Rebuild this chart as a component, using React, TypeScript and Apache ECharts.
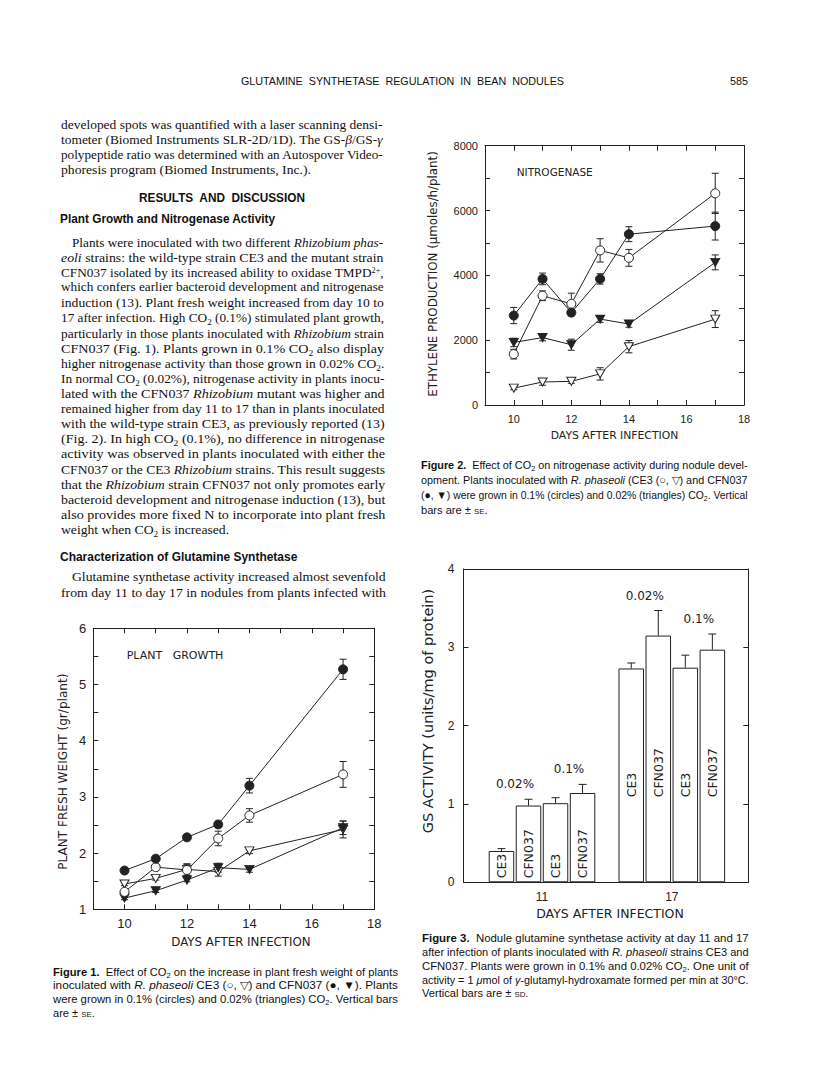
import React, { useEffect, useLayoutEffect, useRef } from "react";
import * as echarts from "echarts";

// ---------------- data ----------------
const days = [10, 11, 12, 13, 14, 17];

// Figure 1 – plant fresh weight (g/plant)
const weightCE3High = [1.31, 1.75, 1.7, 2.26, 2.67, 3.4];
const weightCE3HighSE = [0.05, 0.05, 0.1, 0.13, 0.12, 0.23];
const weightCFNHigh = [1.69, 1.9, 2.28, 2.51, 3.2, 5.27];
const weightCFNHighSE = [0.03, 0.03, 0.03, 0.03, 0.13, 0.18];
const weightCE3Low = [1.45, 1.55, 1.71, 1.67, 2.04, 2.42];
const weightCE3LowSE = [0.03, 0.03, 0.1, 0.08, 0.05, 0.15];
const weightCFNLow = [1.2, 1.33, 1.52, 1.74, 1.71, 2.45];
const weightCFNLowSE = [0.03, 0.03, 0.03, 0.08, 0.05, 0.12];

// Figure 2 – ethylene production (µmoles/h/plant)
const ethyleneCE3High = [1570, 3370, 3120, 4770, 4540, 6530];
const ethyleneCE3HighSE = [150, 150, 330, 360, 260, 620];
const ethyleneCFNHigh = [2760, 3890, 2850, 3890, 5270, 5520];
const ethyleneCFNHighSE = [250, 180, 100, 160, 230, 430];
const ethyleneCE3Low = [520, 710, 730, 960, 1800, 2650];
const ethyleneCE3LowSE = [50, 100, 60, 190, 190, 260];
const ethyleneCFNLow = [1930, 2080, 1860, 2650, 2500, 4400];
const ethyleneCFNLowSE = [130, 100, 170, 100, 100, 230];

// Figure 3 – GS activity (units/mg protein)
const gsDays = [11, 17];
const strains = ["CE3", "CFN037"];
const co2Levels = ["0.02%", "0.1%"];
const gsCE3Low = [0.4, 2.73];
const gsCE3LowSD = [0.03, 0.07];
const gsCFNLow = [0.98, 3.15];
const gsCFNLowSD = [0.08, 0.32];
const gsCE3High = [1.01, 2.74];
const gsCE3HighSD = [0.07, 0.16];
const gsCFNHigh = [1.14, 2.97];
const gsCFNHighSD = [0.11, 0.2];

// ---------------- styling ----------------
const INK = "#222";
const TFONT = '"DejaVu Sans", sans-serif';
const NFONT = '"Liberation Sans", Arial, sans-serif';
const BAR_W = 25.5;
const BAR_GAP = 0.06;
const BAR_PITCH = BAR_W * (1 + BAR_GAP);
const LABEL_DIST = [4, 85];

type Kind = "fc" | "oc" | "ft" | "ot";

function valueAxis(extra: any) {
  return {
    type: "value",
    splitLine: { show: false },
    axisLine: { show: true, onZero: false, lineStyle: { color: INK, width: 1 } },
    axisTick: { show: true, inside: true, length: 5, lineStyle: { color: INK, width: 1 } },
    ...extra,
  };
}

const lbl = (fs: number, margin: number, extra: any = {}) => ({
  fontSize: fs,
  fontFamily: NFONT,
  color: INK,
  margin,
  ...extra,
});

const evenOnly = (v: number) => (v % 2 === 0 ? String(v) : "");

const errRender = (cap: number) => (_p: any, api: any) => {
  const x = api.value(0);
  const y = api.value(1);
  const e = api.value(2);
  const top = api.coord([x, y + e]);
  const bot = api.coord([x, y - e]);
  const st = { stroke: INK, lineWidth: 1, fill: "none" };
  return {
    type: "group",
    children: [
      { type: "line", shape: { x1: top[0], y1: top[1], x2: bot[0], y2: bot[1] }, style: st },
      { type: "line", shape: { x1: top[0] - cap, y1: top[1], x2: top[0] + cap, y2: top[1] }, style: st },
      { type: "line", shape: { x1: bot[0] - cap, y1: bot[1], x2: bot[0] + cap, y2: bot[1] }, style: st },
    ],
  };
};

function curve(name: string, vals: number[], errs: number[], kind: Kind, ax: number, size: number) {
  const filled = kind === "fc" || kind === "ft";
  const tri = kind === "ft" || kind === "ot";
  return [
    {
      type: "custom",
      name: name + " SE",
      xAxisIndex: ax,
      yAxisIndex: ax,
      silent: true,
      z: 2,
      encode: { x: 0, y: 1 },
      data: days.map((d, i) => [d, vals[i], errs[i]]),
      renderItem: errRender(3.5),
    },
    {
      type: "line",
      name,
      xAxisIndex: ax,
      yAxisIndex: ax,
      silent: true,
      z: 3,
      data: days.map((d, i) => [d, vals[i]]),
      symbol: tri ? "triangle" : "circle",
      symbolRotate: tri ? 180 : 0,
      symbolSize: tri ? [size, size - 1] : size,
      showSymbol: true,
      lineStyle: { color: INK, width: 1 },
      itemStyle: { color: filled ? INK : "#fff", borderColor: INK, borderWidth: 1, opacity: 1 },
      emphasis: { disabled: true },
    },
  ];
}

const gsSets = [
  { vals: gsCE3Low, sd: gsCE3LowSD, strain: strains[0] },
  { vals: gsCFNLow, sd: gsCFNLowSD, strain: strains[1] },
  { vals: gsCE3High, sd: gsCE3HighSD, strain: strains[0] },
  { vals: gsCFNHigh, sd: gsCFNHighSD, strain: strains[1] },
];

const gsErrRender = (_p: any, api: any) => {
  const d = api.value(0);
  const v = api.value(1);
  const e = api.value(2);
  const slot = api.value(3);
  const dx = (slot - 1.5) * BAR_PITCH;
  const p0 = api.coord([d, v]);
  const p1 = api.coord([d, v + e]);
  const x = p0[0] + dx;
  const st = { stroke: INK, lineWidth: 1, fill: "none" };
  const children: any[] = [
    { type: "line", shape: { x1: x, y1: p0[1], x2: x, y2: p1[1] }, style: st },
    { type: "line", shape: { x1: x - 4, y1: p1[1], x2: x + 4, y2: p1[1] }, style: st },
  ];
  if (slot % 2 === 1) {
    children.push({
      type: "text",
      x: x - BAR_PITCH / 2,
      y: p1[1] - 15,
      style: {
        text: co2Levels[(slot - 1) / 2],
        fontSize: 12,
        fontFamily: TFONT,
        fill: INK,
        align: "center",
        verticalAlign: "middle",
      },
    });
  }
  return { type: "group", children };
};

function gtext(x: number, y: number, text: string, fs: number, rotate = false, align = "center") {
  return {
    type: "text",
    x,
    y,
    rotation: rotate ? Math.PI / 2 : 0,
    silent: true,
    style: {
      text,
      fontSize: fs,
      fontFamily: TFONT,
      fill: INK,
      align,
      verticalAlign: "middle",
      textAlign: align,
      textVerticalAlign: "middle",
    },
  };
}

const option: any = {
  animation: false,
  backgroundColor: "transparent",
  grid: [
    { left: 485, top: 145.7, width: 259, height: 259.3 },
    { left: 93.3, top: 628.3, width: 281, height: 281 },
    { left: 463.5, top: 569, width: 284.8, height: 313.3 },
  ],
  xAxis: [
    valueAxis({ gridIndex: 0, position: "bottom", min: 9, max: 18, interval: 1, axisLabel: lbl(11, 8, { formatter: evenOnly }) }),
    valueAxis({ gridIndex: 0, position: "top", min: 9, max: 18, interval: 1, axisLabel: { show: false } }),
    valueAxis({ gridIndex: 1, position: "bottom", min: 9, max: 18, interval: 1, axisLabel: lbl(13, 8, { formatter: evenOnly }) }),
    valueAxis({ gridIndex: 1, position: "top", min: 9, max: 18, interval: 1, axisLabel: { show: false } }),
    valueAxis({
      gridIndex: 2,
      position: "bottom",
      min: 7.371,
      max: 20.536,
      axisTick: { show: false },
      axisLabel: lbl(12, 9, { customValues: gsDays }),
    }),
    valueAxis({ gridIndex: 2, position: "top", min: 7.371, max: 20.536, axisTick: { show: false }, axisLabel: { show: false } }),
  ],
  yAxis: [
    valueAxis({
      gridIndex: 0,
      position: "left",
      min: 0,
      max: 8000,
      interval: 1000,
      axisLabel: lbl(11, 7, { formatter: (v: number) => (v % 2000 === 0 ? String(v) : "") }),
    }),
    valueAxis({ gridIndex: 0, position: "right", min: 0, max: 8000, interval: 1000, axisLabel: { show: false } }),
    valueAxis({
      gridIndex: 1,
      position: "left",
      min: 1,
      max: 6,
      interval: 0.5,
      axisLabel: lbl(13, 7, { formatter: (v: number) => (Number.isInteger(v) ? String(v) : "") }),
    }),
    valueAxis({ gridIndex: 1, position: "right", min: 1, max: 6, interval: 0.5, axisLabel: { show: false } }),
    valueAxis({ gridIndex: 2, position: "left", min: 0, max: 4, interval: 1, axisLabel: lbl(12, 9) }),
    valueAxis({ gridIndex: 2, position: "right", min: 0, max: 4, interval: 1, axisLabel: { show: false } }),
  ],
  series: [
    // Figure 2
    ...curve("CE3 0.02%", ethyleneCE3Low, ethyleneCE3LowSE, "ot", 0, 9),
    ...curve("CFN037 0.02%", ethyleneCFNLow, ethyleneCFNLowSE, "ft", 0, 9),
    ...curve("CE3 0.1%", ethyleneCE3High, ethyleneCE3HighSE, "oc", 0, 9),
    ...curve("CFN037 0.1%", ethyleneCFNHigh, ethyleneCFNHighSE, "fc", 0, 9),
    // Figure 1
    ...curve("CE3 0.02% (wt)", weightCE3Low, weightCE3LowSE, "ot", 2, 9),
    ...curve("CFN037 0.02% (wt)", weightCFNLow, weightCFNLowSE, "ft", 2, 9),
    ...curve("CE3 0.1% (wt)", weightCE3High, weightCE3HighSE, "oc", 2, 9),
    ...curve("CFN037 0.1% (wt)", weightCFNHigh, weightCFNHighSE, "fc", 2, 9),
    // Figure 3
    ...gsSets.map((s, k) => ({
      type: "bar",
      name: s.strain + " " + co2Levels[k >> 1],
      xAxisIndex: 4,
      yAxisIndex: 4,
      silent: true,
      z: 2,
      barWidth: BAR_W,
      barGap: BAR_GAP * 100 + "%",
      data: gsDays.map((d, i) => ({ value: [d, s.vals[i]], label: { distance: LABEL_DIST[i] } })),
      itemStyle: { color: "#fff", borderColor: INK, borderWidth: 1 },
      label: {
        show: true,
        position: "insideBottom",
        rotate: 90,
        align: "left",
        verticalAlign: "middle",
        formatter: s.strain,
        fontSize: 12.5,
        fontFamily: TFONT,
        color: INK,
      },
    })),
    {
      type: "custom",
      name: "GS SD",
      xAxisIndex: 4,
      yAxisIndex: 4,
      silent: true,
      z: 3,
      encode: { x: 0, y: 1 },
      data: gsSets.flatMap((s, k) => gsDays.map((d, i) => [d, s.vals[i], s.sd[i], k])),
      renderItem: gsErrRender,
    },
  ],
  graphic: [
    gtext(516.7, 171.7, "NITROGENASE", 10.5, false, "left"),
    gtext(126.7, 655.7, "PLANT   GROWTH", 11, false, "left"),
    gtext(614.5, 435, "DAYS AFTER INFECTION", 10.8),
    gtext(433, 274, "ETHYLENE PRODUCTION (μmoles/h/plant)", 11.8, true),
    gtext(241, 941.7, "DAYS AFTER INFECTION", 11.8),
    gtext(62.7, 771.7, "PLANT FRESH WEIGHT (gr/plant)", 12.1, true),
    gtext(610, 913, "DAYS AFTER INFECTION", 12.5),
    gtext(428.3, 711, "GS ACTIVITY (units/mg of protein)", 14.5, true),
  ],
};

// ---------------- page text ----------------
// left, centre y, right (0 = natural length, scaled like its block), html
type TLine = [number, number, number, string];
const R = (y: number) => 382 + (y - 125) * 0.0075;
const L0 = 60.5;
const LI = 71.7;

const runningHead: TLine[] = [
  [241, 81, 564, "GLUTAMINE&nbsp; SYNTHETASE&nbsp; REGULATION&nbsp; IN&nbsp; BEAN&nbsp; NODULES"],
  [730, 81, 748, "585"],
];

const headings: TLine[] = [
  [139, 198.3, 305, "RESULTS&nbsp; AND&nbsp; DISCUSSION"],
  [60, 219.3, 275, "Plant Growth and Nitrogenase Activity"],
  [60, 556.7, 297.3, "Characterization of Glutamine Synthetase"],
];

const CO2 = "CO<sub>2</sub>";
const bodyLines: TLine[] = [
  [L0, 125, R(125), "developed spots was quantified with a laser scanning densi-"],
  [L0, 140, R(140), "tometer (Biomed Instruments SLR-2D/1D). The GS-<i>β</i>/GS-<i>γ</i>"],
  [L0, 155.3, R(155), "polypeptide ratio was determined with an Autospover Video-"],
  [L0, 170, 0, "phoresis program (Biomed Instruments, Inc.)."],
  [LI, 242.7, R(243), "Plants were inoculated with two different <i>Rhizobium phas-</i>"],
  [L0, 257.7, R(258), "<i>eoli</i> strains: the wild-type strain CE3 and the mutant strain"],
  [L0, 272.7, R(273), "CFN037 isolated by its increased ability to oxidase TMPD<sup>2+</sup>,"],
  [L0, 287.3, R(287), "which confers earlier bacteroid development and nitrogenase"],
  [L0, 303.3, R(303), "induction (13). Plant fresh weight increased from day 10 to"],
  [L0, 318.3, R(318), `17 after infection. High ${CO2} (0.1%) stimulated plant growth,`],
  [L0, 333.7, R(334), "particularly in those plants inoculated with <i>Rhizobium</i> strain"],
  [L0, 348.7, R(349), `CFN037 (Fig. 1). Plants grown in 0.1% ${CO2} also display`],
  [L0, 364, R(364), `higher nitrogenase activity than those grown in 0.02% ${CO2}.`],
  [L0, 379, R(379), `In normal ${CO2} (0.02%), nitrogenase activity in plants inocu-`],
  [L0, 393.7, R(394), "lated with the CFN037 <i>Rhizobium</i> mutant was higher and"],
  [L0, 408.7, R(409), "remained higher from day 11 to 17 than in plants inoculated"],
  [L0, 423.7, R(424), "with the wild-type strain CE3, as previously reported (13)"],
  [L0, 439, R(439), `(Fig. 2). In high ${CO2} (0.1%), no difference in nitrogenase`],
  [L0, 454.3, R(454), "activity was observed in plants inoculated with either the"],
  [L0, 469.5, R(470), "CFN037 or the CE3 <i>Rhizobium</i> strains. This result suggests"],
  [L0, 484.5, R(485), "that the <i>Rhizobium</i> strain CFN037 not only promotes early"],
  [L0, 500, R(500), "bacteroid development and nitrogenase induction (13), but"],
  [L0, 514.5, R(515), "also provides more fixed N to incorporate into plant fresh"],
  [L0, 529.5, 0, `weight when ${CO2} is increased.`],
  [LI, 577, R(577), "Glutamine synthetase activity increased almost sevenfold"],
  [L0, 593, R(593), "from day 11 to day 17 in nodules from plants infected with"],
];

const captionLines: TLine[] = [
  [421, 465, 747.5, `<b>Figure 2.</b>&nbsp; Effect of ${CO2} on nitrogenase activity during nodule devel-`],
  [421, 480, 747.5, "opment. Plants inoculated with <i>R. phaseoli</i> (CE3 (○, ▽) and CFN037"],
  [421, 495, 747.5, `(●, ▼) were grown in 0.1% (circles) and 0.02% (triangles) ${CO2}. Vertical`],
  [421, 510, 0, 'bars are ± <span class="sc">se</span>.'],
  [421.7, 938.3, 748.3, "<b>Figure 3.</b>&nbsp; Nodule glutamine synthetase activity at day 11 and 17"],
  [421.7, 952.3, 748.3, "after infection of plants inoculated with <i>R. phaseoli</i> strains CE3 and"],
  [421.7, 966, 748.3, `CFN037. Plants were grown in 0.1% and 0.02% ${CO2}. One unit of`],
  [421.7, 979.5, 748.3, "activity = 1 <i>μ</i>mol of <i>γ</i>-glutamyl-hydroxamate formed per min at 30°C."],
  [421.7, 993, 0, 'Vertical bars are ± <span class="sc">sd</span>.'],
  [53.3, 971.7, 398.3, `<b>Figure 1.</b>&nbsp; Effect of ${CO2} on the increase in plant fresh weight of plants`],
  [53.3, 985.3, 398.3, "inoculated with <i>R. phaseoli</i> CE3 (○, ▽) and CFN037 (●, ▼). Plants"],
  [53.3, 999, 398.3, `were grown in 0.1% (circles) and 0.02% (triangles) ${CO2}. Vertical bars`],
  [53.3, 1012.7, 0, 'are ± <span class="sc">se</span>.'],
];

function Lines({ lines, cls, lh }: { lines: TLine[]; cls: string; lh: number }) {
  return (
    <>
      {lines.map(([x, y, r, html], i) => (
        <div
          key={i}
          className={"t " + cls}
          data-fitw={r > 0 ? r - x : 0}
          data-cls={cls}
          style={{
            position: "absolute",
            left: x,
            top: y - lh / 2,
            height: lh,
            lineHeight: lh + "px",
            whiteSpace: "nowrap",
            transformOrigin: "0 50%",
          }}
          dangerouslySetInnerHTML={{ __html: html }}
        />
      ))}
    </>
  );
}

const css = `
.t{color:#111;}
.t sub{font-size:0.68em;vertical-align:-0.28em;line-height:0;}
.t sup{font-size:0.62em;vertical-align:0.5em;line-height:0;}
.t .sc{font-variant:small-caps;}
.body{font-family:"Liberation Serif","Times New Roman",serif;font-size:13.3px;}
.cap{font-family:"Liberation Sans",Arial,sans-serif;font-size:11.3px;}
.hd{font-family:"Liberation Sans",Arial,sans-serif;font-size:12.3px;font-weight:bold;}
.rh{font-family:"Liberation Sans",Arial,sans-serif;font-size:11.5px;}
`;

function fitAll() {
  const els = Array.from(document.querySelectorAll<HTMLElement>("[data-fitw]"));
  const sums: Record<string, [number, number]> = {};
  els.forEach((el) => {
    el.style.transform = "none";
    const w = parseFloat(el.dataset.fitw || "0");
    if (w <= 0) return;
    const nat = el.getBoundingClientRect().width;
    if (nat <= 0) return;
    const s = w / nat;
    el.style.transform = `scaleX(${s})`;
    const c = el.dataset.cls || "";
    if (!sums[c]) sums[c] = [0, 0];
    sums[c][0] += s;
    sums[c][1] += 1;
  });
  els.forEach((el) => {
    const w = parseFloat(el.dataset.fitw || "0");
    if (w > 0) return;
    const c = el.dataset.cls || "";
    const s = sums[c] ? sums[c][0] / sums[c][1] : 1;
    el.style.transform = `scaleX(${s})`;
  });
}

export default function App() {
  const ref = useRef<HTMLDivElement>(null);

  useEffect(() => {
    if (!ref.current) return;
    const chart = echarts.init(ref.current, null, { renderer: "svg" });
    chart.setOption(option);
    return () => chart.dispose();
  }, []);

  useLayoutEffect(() => {
    fitAll();
    const fonts = (document as any).fonts;
    if (fonts && fonts.ready) fonts.ready.then(fitAll);
  }, []);

  return (
    <>
      <style>{css}</style>
      <div
        ref={ref}
        style={{ position: "absolute", left: 0, top: 0, width: 816, height: 1073, background: "#fff" }}
      />
      <Lines lines={runningHead} cls="rh" lh={15} />
      <Lines lines={headings} cls="hd" lh={16} />
      <Lines lines={bodyLines} cls="body" lh={16} />
      <Lines lines={captionLines} cls="cap" lh={14} />
    </>
  );
}
